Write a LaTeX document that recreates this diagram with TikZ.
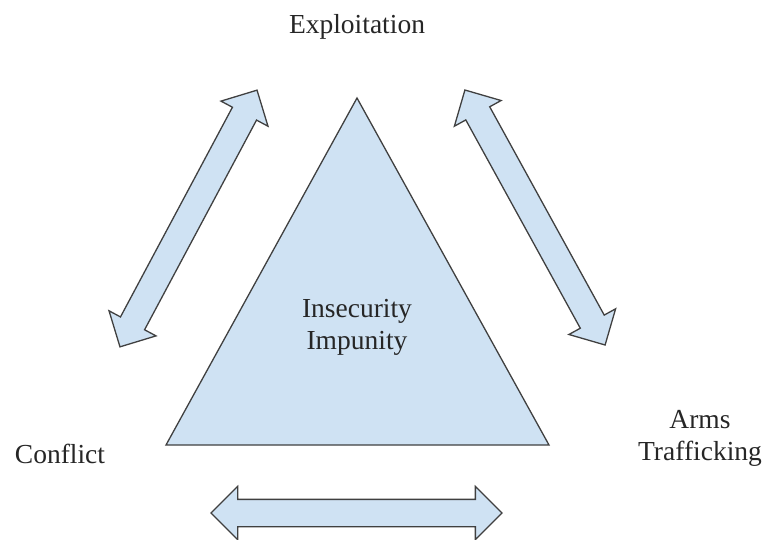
\documentclass[tikz,border=0pt]{standalone}
\usepackage{fontspec}
\setmainfont{Liberation Serif}
\usepackage{tikz}
\usetikzlibrary{shapes.arrows}
\definecolor{paleblue}{HTML}{CFE2F3}
\definecolor{edgegray}{HTML}{404040}

\begin{document}
\begin{tikzpicture}[
    x=1pt, y=-1pt,
    word/.style={font=\fontsize{27.5}{32}\selectfont, anchor=base, inner sep=0pt, text=black!85},
    tri/.style={draw=edgegray, fill=paleblue, line width=1.3pt, line join=miter},
    dblarrow/.style={double arrow, draw=edgegray, fill=paleblue, line width=1.3pt, inner sep=0pt,
        text height=13pt, text depth=13pt, minimum height=291pt, double arrow head extend=13pt}
]
    \useasboundingbox (0,0) rectangle (766,539);

    % central triangle
    \coordinate (apex) at (357,98);
    \coordinate (baseL) at (166,445);
    \coordinate (baseR) at (549,445);
    \draw[tri] (apex) -- (baseL) -- (baseR) -- cycle;
    \node[word] (insec) at (357,317) {Insecurity};
    \node[word] (impun) at (357,349) {Impunity};

    % two-way arrows between the corners
    \node[dblarrow, rotate=61.9] (arrowL) at (188.5,218.5) {};
    \node[dblarrow, rotate=-61.2] (arrowR) at (535,217.5) {};
    \node[dblarrow] (arrowB) at (356.5,513) {};

    % corner labels
    \node[word] (exploit) at (357,33) {Exploitation};
    \node[word] (conflict) at (60,463) {Conflict};
    \node[word] (arms) at (700,428) {Arms};
    \node[word] (traffic) at (700,460) {Trafficking};
\end{tikzpicture}
\end{document}
